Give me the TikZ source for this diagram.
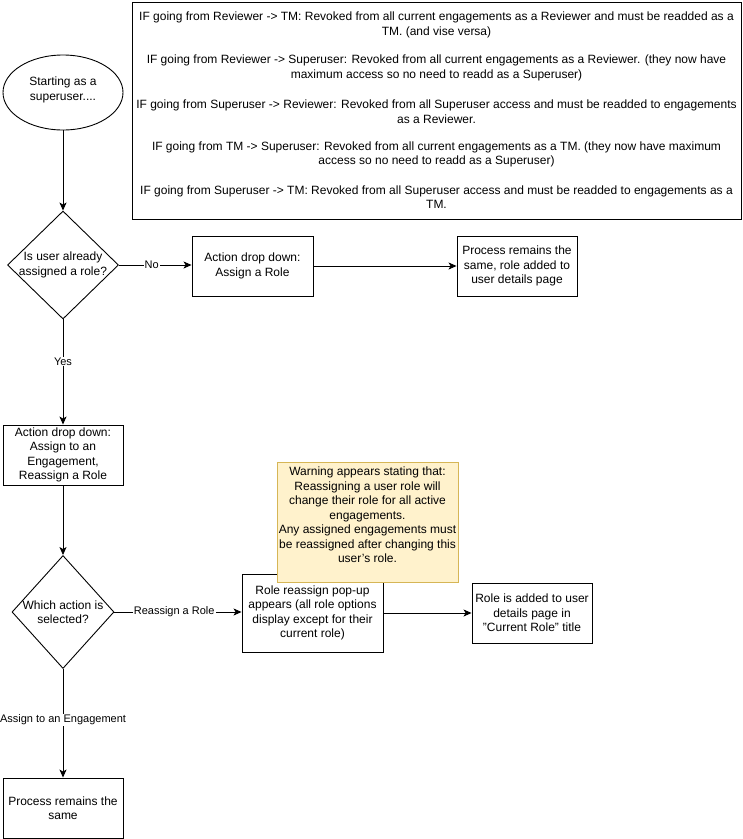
\documentclass[tikz,border=0pt]{standalone}
\usepackage{fontspec}
\setmainfont{Liberation Sans}
\usetikzlibrary{shapes.geometric,arrows.meta}
\definecolor{notefill}{HTML}{FFF2CC}
\definecolor{notedraw}{HTML}{D6B656}
\begin{document}
\begin{tikzpicture}[x=1pt,y=-1pt,
  every node/.style={font=\fontsize{12}{14.5}\selectfont, inner sep=0pt, align=center},
  box/.style={draw, line width=0.9pt, rectangle},
  dia/.style={draw, line width=0.9pt, diamond, aspect=1},
  arr/.style={draw, line width=0.9pt, -{Stealth[length=8pt,width=7pt,inset=2pt]}},
  lbl/.style={fill=white, inner sep=1pt, font=\fontsize{11}{13}\selectfont}]
\useasboundingbox[fill=white] (0,0) rectangle (743,839);

% info text box
\node[box, minimum width=609pt, minimum height=217pt] (info) at (436.5,110.5) {};
\node (t1) at (436.5,25) {IF going from Reviewer -> TM: Revoked from all current engagements as a Reviewer and must be readded as a\\TM. (and vise versa)};
\node (t2) at (436.5,68) {IF going from Reviewer -> Superuser: Revoked from all current engagements as a Reviewer. (they now have\\maximum access so no need to readd as a Superuser)};
\node (t3) at (436.5,111.5) {IF going from Superuser -> Reviewer: Revoked from all Superuser access and must be readded to engagements\\as a Reviewer.};
\node (t4) at (436.5,154.5) {IF going from TM -> Superuser: Revoked from all current engagements as a TM. (they now have maximum\\access so no need to readd as a Superuser)};
\node (t5) at (436.5,197) {IF going from Superuser -> TM: Revoked from all Superuser access and must be readded to engagements as a\\TM.};

% start
\node[draw, line width=0.9pt, ellipse, minimum width=120pt, minimum height=75pt] (start) at (63,92.5) {};
\node (starttxt) at (63,90) {Starting as a\\superuser....};

% decision 1
\node[dia, minimum width=111pt, minimum height=108pt] (d1) at (63,265) {};
\node (d1txt) at (63,265) {Is user already\\assigned a role?};

\node[box, minimum width=121pt, minimum height=60pt] (a1) at (252.5,266) {Action drop down:\\Assign a Role};
\node[box, minimum width=120pt, minimum height=60pt] (p1) at (517,266) {Process remains the\\same, role added to\\user details page};

\node[box, minimum width=120pt, minimum height=60pt] (a2) at (63,455) {Action drop down:\\Assign to an\\Engagement,\\Reassign a Role};

% decision 2
\node[dia, minimum width=102pt, minimum height=113pt] (d2) at (63,612) {};
\node (d2txt) at (63,612) {Which action is\\selected?};

\node[box, minimum width=141pt, minimum height=78pt] (rr) at (312.5,613) {Role reassign pop-up\\appears (all role options\\display except for their\\current role)};
\node[box, minimum width=120pt, minimum height=60pt] (ra) at (532,613) {Role is added to user\\details page in\\\char34 Current Role\char34{} title};

\node[box, minimum width=120pt, minimum height=60pt] (pr) at (63,808) {Process remains the\\same};

% note
\node[draw=notedraw, fill=notefill, line width=0.9pt, minimum width=181pt, minimum height=120pt] (note) at (367.5,522) {};
\node (notetxt) at (367.5,515) {Warning appears stating that:\\Reassigning a user role will\\change their role for all active\\engagements.\\Any assigned engagements must\\be reassigned after changing this\\user\char39 s role.};

% connectors
\draw[arr] (start) -- (d1.north);
\draw[arr] (d1.east) -- (a1.west |- d1.east) node[lbl, pos=0.45] {No};
\draw[arr] (a1) -- (p1);
\draw[arr] (d1.south) -- (a2.north) node[lbl, pos=0.4] {Yes};
\draw[arr] (a2) -- (d2.north);
\draw[arr] (d2.east) -- (rr.west |- d2.east) node[lbl, pos=0.47] {Reassign a Role};
\draw[arr] (rr) -- (ra);
\draw[arr] (d2.south) -- (pr.north) node[lbl, pos=0.47] {Assign to an Engagement};
\end{tikzpicture}
\end{document}
